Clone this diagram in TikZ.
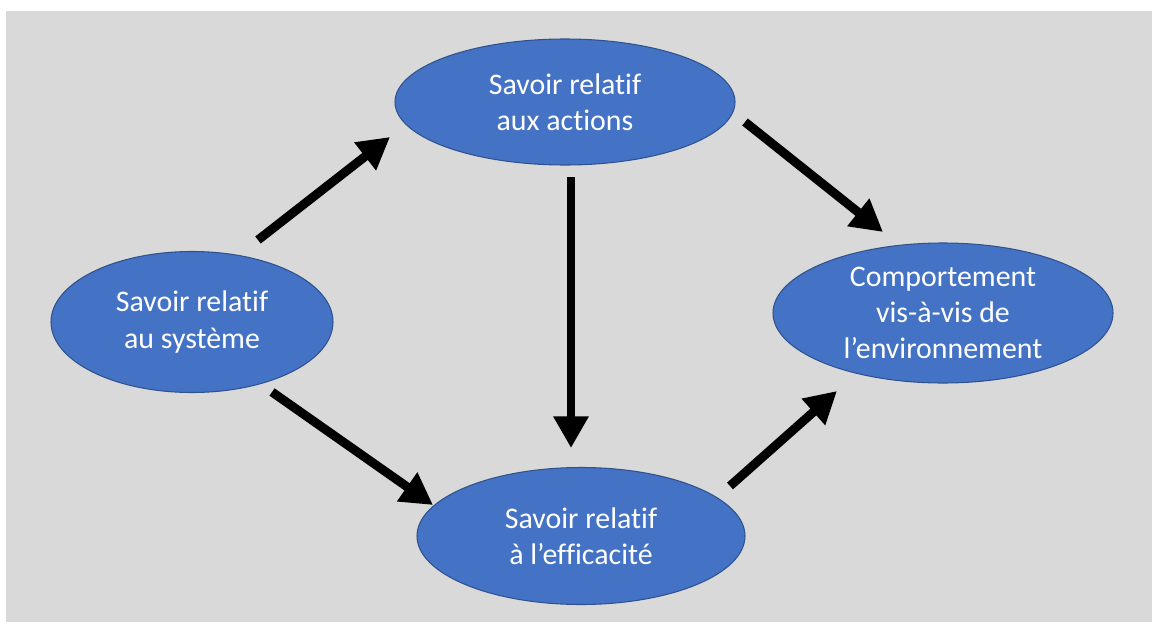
\documentclass[tikz,border=0pt]{standalone}
\usepackage{fontspec}
\setmainfont[Ligatures=NoCommon]{Carlito}
\usepackage{tikz}
\usetikzlibrary{arrows.meta,shapes.geometric}
\pgfdeclarelayer{bglayer}
\pgfdeclarelayer{nodelayer}
\pgfdeclarelayer{edgelayer}
\pgfsetlayers{bglayer,edgelayer,nodelayer,main}
\definecolor{officeblue}{HTML}{4472C4}
\definecolor{officeedge}{HTML}{2F528F}
\definecolor{slidegray}{HTML}{D9D9D9}
\tikzstyle{bubble}=[fill=officeblue, draw=officeedge, line width=0.6pt, shape=ellipse, inner sep=0pt, text=white, align=center, font=\fontsize{17}{20.6}\selectfont]
\tikzstyle{none}=[fill=none, draw=none, shape=circle, scale=0]
\tikzstyle{fat arrow}=[draw=black, line width=5.1pt, -{Triangle[length=18pt, width=19pt]}]

\begin{document}
\begin{tikzpicture}
	\useasboundingbox (0, 0) rectangle (23.04, -12.44);
	\begin{pgfonlayer}{bglayer}
		\fill [slidegray] (0.12, -0.22) rectangle (23.04, -12.44);
	\end{pgfonlayer}
	\begin{pgfonlayer}{nodelayer}
		\node [style=bubble, minimum width=6.8cm, minimum height=2.52cm] (0) at (11.30, -2.04) {Savoir relatif\\aux actions};
		\node [style=bubble, minimum width=5.64cm, minimum height=2.82cm] (1) at (3.84, -6.44) {Savoir relatif\\au système};
		\node [style=bubble, minimum width=6.56cm, minimum height=2.74cm] (2) at (11.62, -10.72) {Savoir relatif\\à l’efficacité};
		\node [style=bubble, minimum width=6.8cm, minimum height=2.8cm] (3) at (18.86, -6.26) {Comportement\\vis-à-vis de\\l’environnement};
		\node [style=none] (4) at (5.16, -4.80) {};
		\node [style=none] (5) at (7.80, -2.74) {};
		\node [style=none] (6) at (14.90, -2.44) {};
		\node [style=none] (7) at (17.66, -4.64) {};
		\node [style=none] (8) at (11.42, -3.54) {};
		\node [style=none] (9) at (11.42, -8.96) {};
		\node [style=none] (10) at (5.44, -7.84) {};
		\node [style=none] (11) at (8.66, -10.10) {};
		\node [style=none] (12) at (14.60, -9.72) {};
		\node [style=none] (13) at (16.74, -7.82) {};
	\end{pgfonlayer}
	\begin{pgfonlayer}{edgelayer}
		\draw [style=fat arrow] (4.center) to (5.center);
		\draw [style=fat arrow] (6.center) to (7.center);
		\draw [style=fat arrow] (8.center) to (9.center);
		\draw [style=fat arrow] (10.center) to (11.center);
		\draw [style=fat arrow] (12.center) to (13.center);
	\end{pgfonlayer}
\end{tikzpicture}
\end{document}
